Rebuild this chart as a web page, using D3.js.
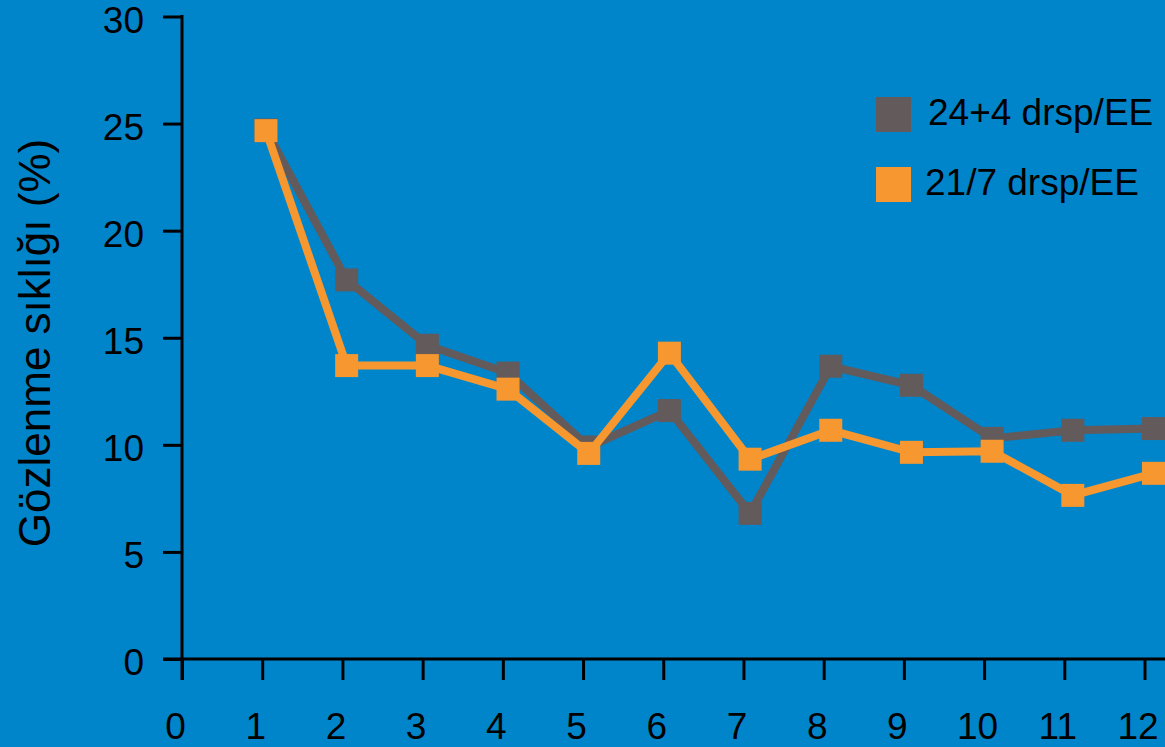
<!DOCTYPE html>
<html>
<head>
<meta charset="utf-8">
<script src="https://cdn.jsdelivr.net/npm/d3@7"></script>
<style>
  html, body { margin: 0; padding: 0; background: #0085CA; }
  svg { display: block; }
  text { font-family: "Liberation Sans", Arial, sans-serif; fill: #000; }
</style>
</head>
<body>
<svg id="chart" width="1165" height="747"></svg>
<script>
// ---- data ----
const months = [1, 2, 3, 4, 5, 6, 7, 8, 9, 10, 11, 12];
const series24_4 = [24.7, 17.7, 14.65, 13.35, 9.9, 11.6, 6.8, 13.67, 12.78, 10.3, 10.68, 10.76];
const series21_7 = [24.67, 13.7, 13.7, 12.6, 9.6, 14.28, 9.33, 10.68, 9.65, 9.7, 7.64, 8.67];
const seriesNames = ["24+4 drsp/EE", "21/7 drsp/EE"];
const xTickValues = [0, 1, 2, 3, 4, 5, 6, 7, 8, 9, 10, 11, 12];
const yTickValues = [0, 5, 10, 15, 20, 25, 30];
const yTitle = "Gözlenme sıklığı (%)";

// ---- layout ----
const W = 1165, H = 747;
const colors = ["#625A5B", "#F7972F"];
const svg = d3.select("#chart");
svg.append("rect").attr("width", W).attr("height", H).attr("fill", "#0085CA");

const y = d3.scaleLinear().domain([0, 30]).range([659, 16.5]);
const xAxisScale = d3.scaleLinear().domain([0, 12]).range([182, 1144.5]);
const xData = d3.scaleLinear().domain([0, 12]).range([185.3, 1153.5]);

// y axis
const yAxis = d3.axisLeft(y).tickValues(yTickValues).tickSize(19).tickSizeOuter(0).tickPadding(20);
const gy = svg.append("g").attr("transform", "translate(182,0)").call(yAxis);
gy.selectAll("text").attr("font-size", 37).attr("dy", "0.42em").attr("x", -38);
gy.select(".domain").remove();

// x axis
const xAxis = d3.axisBottom(xAxisScale).tickValues(xTickValues).tickSize(21).tickSizeOuter(0).tickPadding(0);
const gx = svg.append("g").attr("transform", "translate(0,659)").call(xAxis);
gx.select(".domain").remove();
gx.selectAll("text").attr("font-size", 37).attr("dy", 0).attr("y", 80).attr("dx", -7);

// axis lines
svg.append("line").attr("x1", 182).attr("x2", 182).attr("y1", y(30) - 1.5).attr("y2", 680)
  .attr("stroke", "#000").attr("stroke-width", 3);
svg.append("line").attr("x1", 163).attr("x2", W).attr("y1", y(0)).attr("y2", y(0))
  .attr("stroke", "#000").attr("stroke-width", 3);
svg.selectAll(".tick line").attr("stroke", "#000").attr("stroke-width", 3);

// y title
svg.append("text")
  .attr("transform", `translate(50,${343}) rotate(-90)`)
  .attr("text-anchor", "middle")
  .attr("font-size", 44)
  .text(yTitle);

// series
const allSeries = [series24_4, series21_7];
const line = d3.line().x((d, i) => xData(months[i])).y(d => y(d));
const M = 23;
allSeries.forEach((s, k) => {
  const g = svg.append("g");
  g.append("path").datum(s).attr("d", line).attr("fill", "none")
    .attr("stroke", colors[k]).attr("stroke-width", 8).attr("stroke-linejoin", "miter");
  g.selectAll("rect").data(s).enter().append("rect")
    .attr("x", (d, i) => xData(months[i]) - M / 2)
    .attr("y", d => y(d) - M / 2)
    .attr("width", M).attr("height", M)
    .attr("fill", colors[k]);
});

// legend
const legend = svg.append("g");
seriesNames.forEach((name, k) => {
  const ly = 97 + k * 70;
  legend.append("rect").attr("x", 876).attr("y", ly).attr("width", 35).attr("height", 35).attr("fill", colors[k]);
  legend.append("text").attr("x", k === 0 ? 928 : 925).attr("y", ly + 28).attr("font-size", 37).text(name);
});
</script>
</body>
</html>
